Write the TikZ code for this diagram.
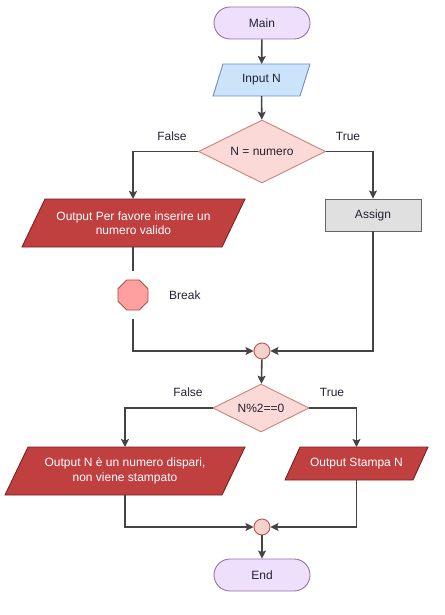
\documentclass[tikz,border=0pt]{standalone}
\usepackage{fontspec}
\setmainfont{Liberation Sans}
\usetikzlibrary{shapes.geometric,arrows.meta,backgrounds}
\definecolor{termfill}{HTML}{EEDFFC}
\definecolor{termdraw}{HTML}{9673A6}
\definecolor{infill}{HTML}{CCE4FB}
\definecolor{indraw}{HTML}{6C8EBF}
\definecolor{decfill}{HTML}{FBD9D6}
\definecolor{decdraw}{HTML}{C8827E}
\definecolor{outfill}{HTML}{C04040}
\definecolor{outdraw}{HTML}{7A2020}
\definecolor{procfill}{HTML}{E0E0E0}
\definecolor{procdraw}{HTML}{666666}
\definecolor{octfill}{HTML}{FFA0A0}
\definecolor{octdraw}{HTML}{B04A4A}
\definecolor{joinfill}{HTML}{F8D0CE}
\definecolor{joindraw}{HTML}{B85450}
\definecolor{linecol}{HTML}{444444}
\definecolor{txtcol}{HTML}{222233}
\tikzset{
  base/.style={font=\fontsize{12}{14.5}\selectfont, text=txtcol, inner sep=1pt, line width=0.9pt},
  term/.style={base, rectangle, rounded corners=16pt, draw=termdraw, fill=termfill, minimum width=96pt, minimum height=32pt},
  parabox/.style={base, rectangle, inner sep=0pt, outer sep=0pt, align=center},
  inshape/.style={draw=indraw, fill=infill, line width=0.9pt},
  outshape/.style={draw=outdraw, fill=outfill, line width=0.9pt},
  decbox/.style={base, diamond, aspect=2, draw=decdraw, fill=decfill, inner sep=0pt},
  procbox/.style={base, rectangle, draw=procdraw, fill=procfill, minimum width=96pt, minimum height=32pt},
  octbox/.style={base, regular polygon, regular polygon sides=8, draw=octdraw, fill=octfill, minimum size=32.5pt, inner sep=0pt},
  joinbox/.style={base, circle, draw=joindraw, fill=joinfill, minimum size=16pt, inner sep=0pt},
  lbl/.style={font=\fontsize{12}{14.5}\selectfont, text=txtcol, inner sep=0pt},
  conn/.style={draw=linecol, line width=1.6pt, -{Stealth[length=8pt,width=8pt,inset=1.5pt]}},
  plainconn/.style={draw=linecol, line width=1.6pt},
}
\newcommand{\parashape}[3]{% style, node, slant
  \path[#1] ([xshift=#3]#2.north west) -- (#2.north east) -- ([xshift=-#3]#2.south east) -- (#2.south west) -- cycle;}
\begin{document}
\begin{tikzpicture}[x=1pt,y=-1pt]
\useasboundingbox (0,0) rectangle (444,615);
\node[term] (main) at (262,23) {Main};
\node[parabox, minimum width=97pt, minimum height=32pt] (input) at (261.5,80) {Input N};
\node[decbox, minimum width=127pt, minimum height=63pt] (d1) at (262,151.5) {N = numero};
\node[parabox, minimum width=223pt, minimum height=48pt, text=white] (out1) at (133.5,223) {Output Per favore inserire un\\numero valido};
\node[procbox] (assign) at (373,215) {Assign};
\node[octbox] (oct) at (133,295) {};
\node[lbl, anchor=west] (brk) at (169,295) {Break};
\node[joinbox] (c1) at (262,351) {};
\node[decbox, minimum width=96pt, minimum height=48pt] (d2) at (261,408) {N\%2==0};
\node[parabox, minimum width=240pt, minimum height=48pt, text=white] (out2) at (125,471) {Output N è un numero dispari,\\non viene stampato};
\node[parabox, minimum width=143pt, minimum height=33pt, text=white] (out3) at (356.5,463.5) {Output Stampa N};
\node[joinbox] (c2) at (262,527) {};
\node[term] (end) at (262,575) {End};
\node[lbl] (f1) at (172,136) {False};
\node[lbl] (t1) at (348,136) {True};
\node[lbl] (f2) at (188,392) {False};
\node[lbl] (t2) at (332,392) {True};

\begin{scope}[on background layer]
\parashape{inshape}{input}{10pt}
\parashape{outshape}{out1}{23pt}
\parashape{outshape}{out2}{23pt}
\parashape{outshape}{out3}{15pt}
\end{scope}

\draw[conn] (main) -- (input);
\draw[conn] (input) -- (d1);
\draw[conn] (d1.west) -| (out1.north -| oct);
\draw[conn] (d1.east) -| (assign.north);
\draw[plainconn, shorten >=9pt] (out1.south -| oct) -- (oct.north);
\draw[conn, shorten <=9pt] (oct.south) |- (c1.west);
\draw[conn] (assign.south) |- (c1.east);
\draw[conn] (c1) -- (d2);
\draw[conn] (d2.west) -| (out2.north);
\draw[conn] (d2.east) -| (out3.north);
\draw[conn] (out2.south) |- (c2.west);
\draw[conn] (out3.south) |- (c2.east);
\draw[conn] (c2) -- (end);
\end{tikzpicture}
\end{document}
